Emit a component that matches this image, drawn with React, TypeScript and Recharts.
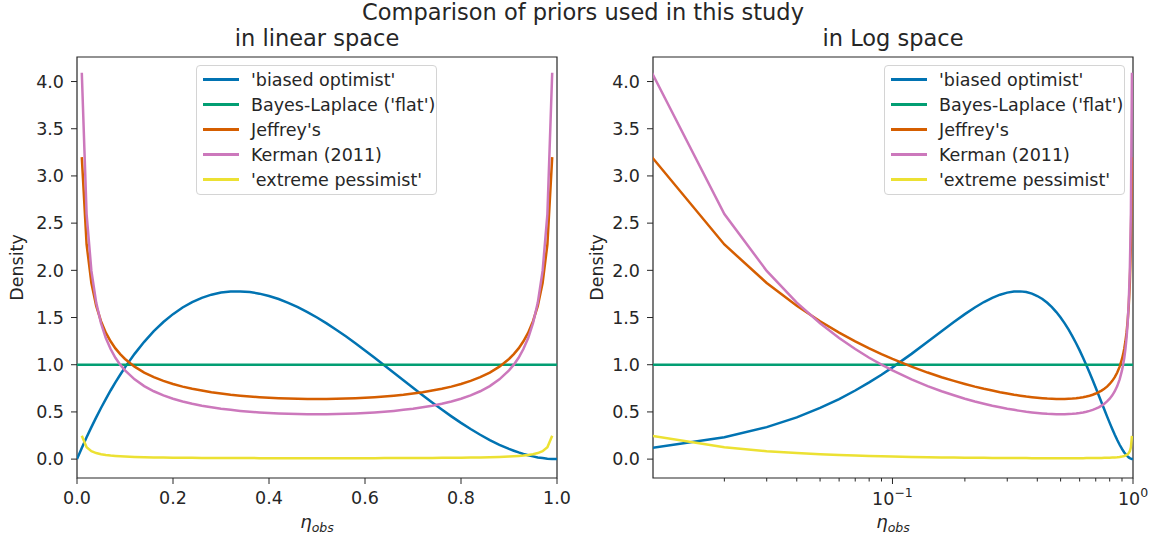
import React from "react"
import { LineChart, Line, XAxis, YAxis, ReferenceArea, Legend, Label } from "recharts"

// sample points of eta_obs (denser near the edges)
const etaObs = [
  0, 0.01, 0.02, 0.03, 0.04, 0.05, 0.06, 0.07, 0.08, 0.09, 0.1,
  0.12, 0.14, 0.16, 0.18, 0.2, 0.22, 0.24, 0.26, 0.28, 0.3, 0.32, 0.34, 0.36, 0.38, 0.4, 0.42, 0.44, 0.46, 0.48, 0.5,
  0.52, 0.54, 0.56, 0.58, 0.6, 0.62, 0.64, 0.66, 0.68, 0.7, 0.72, 0.74, 0.76, 0.78, 0.8, 0.82, 0.84, 0.86, 0.88,
  0.9, 0.91, 0.92, 0.93, 0.94, 0.95, 0.96, 0.97, 0.98, 0.99, 1,
]

const biasedOptimist = [
  0, 0.118, 0.231, 0.339, 0.442, 0.542, 0.636, 0.727, 0.813, 0.894, 0.972,
  1.115, 1.243, 1.355, 1.452, 1.536, 1.606, 1.664, 1.709, 1.742, 1.764, 1.776, 1.777, 1.77, 1.753, 1.728, 1.696, 1.656, 1.61, 1.558, 1.5,
  1.438, 1.371, 1.301, 1.228, 1.152, 1.074, 0.995, 0.916, 0.836, 0.756, 0.677, 0.6, 0.525, 0.453, 0.384, 0.319, 0.258, 0.202, 0.152,
  0.108, 0.089, 0.071, 0.055, 0.041, 0.029, 0.018, 0.011, 0.005, 0.001, 0,
]

const bayesLaplace = [
  1, 1, 1, 1, 1, 1, 1, 1, 1, 1, 1,
  1, 1, 1, 1, 1, 1, 1, 1, 1, 1, 1, 1, 1, 1, 1, 1, 1, 1, 1, 1,
  1, 1, 1, 1, 1, 1, 1, 1, 1, 1, 1, 1, 1, 1, 1, 1, 1, 1, 1,
  1, 1, 1, 1, 1, 1, 1, 1, 1, 1, 1,
]

const jeffreys = [
  null, 3.199, 2.274, 1.866, 1.624, 1.461, 1.34, 1.248, 1.173, 1.112, 1.061,
  0.98, 0.917, 0.868, 0.829, 0.796, 0.768, 0.745, 0.726, 0.709, 0.695, 0.682, 0.672, 0.663, 0.656, 0.65, 0.645, 0.641, 0.639, 0.637, 0.637,
  0.637, 0.639, 0.641, 0.645, 0.65, 0.656, 0.663, 0.672, 0.682, 0.695, 0.709, 0.726, 0.745, 0.768, 0.796, 0.829, 0.868, 0.917, 0.98,
  1.061, 1.112, 1.173, 1.248, 1.34, 1.461, 1.624, 1.866, 2.274, 3.199, null,
]

const kerman = [
  null, 4.093, 2.596, 1.994, 1.658, 1.439, 1.283, 1.166, 1.074, 1.001, 0.94,
  0.845, 0.774, 0.719, 0.676, 0.64, 0.611, 0.587, 0.566, 0.549, 0.534, 0.522, 0.511, 0.502, 0.495, 0.489, 0.484, 0.48, 0.478, 0.476, 0.475,
  0.476, 0.478, 0.48, 0.484, 0.489, 0.495, 0.502, 0.511, 0.522, 0.534, 0.549, 0.566, 0.587, 0.611, 0.64, 0.676, 0.719, 0.774, 0.845,
  0.94, 1.001, 1.074, 1.166, 1.283, 1.439, 1.658, 1.994, 2.596, 4.093, null,
]

const extremePessimist = [
  null, 0.2468, 0.1251, 0.0844, 0.0641, 0.0518, 0.0437, 0.0379, 0.0335, 0.0301, 0.0274,
  0.0234, 0.0205, 0.0184, 0.0168, 0.0155, 0.0144, 0.0136, 0.0129, 0.0123, 0.0118, 0.0114, 0.0111, 0.0108, 0.0105, 0.0103, 0.0102, 0.0101, 0.01, 0.0099, 0.0099,
  0.0099, 0.01, 0.0101, 0.0102, 0.0103, 0.0105, 0.0108, 0.0111, 0.0114, 0.0118, 0.0123, 0.0129, 0.0136, 0.0144, 0.0155, 0.0168, 0.0184, 0.0205, 0.0234,
  0.0274, 0.0301, 0.0335, 0.0379, 0.0437, 0.0518, 0.0641, 0.0844, 0.1251, 0.2468, null,
]

const yTicks = [0, 0.5, 1, 1.5, 2, 2.5, 3, 3.5, 4]
const linTicks = [0, 0.2, 0.4, 0.6, 0.8, 1]
const logTicks = [0.02, 0.03, 0.04, 0.05, 0.06, 0.07, 0.08, 0.09, 0.1, 0.2, 0.3, 0.4, 0.5, 0.6, 0.7, 0.8, 0.9, 1]
const logMajor: Record<string, string> = { "0.1": "\u22121", "1": "0" }

const series = [
  { key: "optimist", name: "'biased optimist'", color: "#0173b2" },
  { key: "flat", name: "Bayes-Laplace ('flat')", color: "#029e73" },
  { key: "jeffreys", name: "Jeffrey's", color: "#d55e00" },
  { key: "kerman", name: "Kerman (2011)", color: "#cc78bc" },
  { key: "pessimist", name: "'extreme pessimist'", color: "#ece133" },
]

const rows = etaObs.map((x, i) => ({
  x,
  optimist: biasedOptimist[i],
  flat: bayesLaplace[i],
  jeffreys: jeffreys[i],
  kerman: kerman[i],
  pessimist: extremePessimist[i],
}))
const logRows = rows.filter((r) => r.x > 0)

const FONT = "'DejaVu Sans', sans-serif"
const INK = "#262626"
const FS = 17.5
const yDomain: [number, number] = [-0.2, 4.26]

const PriorLegend = () => (
  <div
    style={{
      boxSizing: "border-box",
      width: 241,
      border: "1px solid #d4d4d4",
      borderRadius: 4,
      background: "rgba(255,255,255,0.8)",
      padding: "1px 0 2px 6px",
      fontFamily: FONT,
      fontSize: FS,
      color: INK,
    }}
  >
    {series.map((s) => (
      <div key={s.key} style={{ display: "flex", alignItems: "center", height: 25 }}>
        <div style={{ width: 36, height: 2.5, background: s.color, marginRight: 12 }} />
        <span style={{ whiteSpace: "nowrap" }}>{s.name}</span>
      </div>
    ))}
  </div>
)

const DensityLabel = (props: any) => {
  const { viewBox } = props
  const cx = viewBox.x + 17
  const cy = viewBox.y + viewBox.height / 2
  return (
    <text x={cx} y={cy} transform={`rotate(-90 ${cx} ${cy})`} textAnchor="middle" dominantBaseline="central" fontFamily={FONT} fontSize={FS} fill={INK}>
      Density
    </text>
  )
}

const EtaLabel = (props: any) => {
  const { viewBox } = props
  const cx = viewBox.x + viewBox.width / 2
  const by = viewBox.y + 50
  return (
    <text x={cx} y={by} textAnchor="middle" fontFamily={FONT} fontSize={18} fontStyle="italic" fill={INK}>
      η<tspan fontSize={12.5} dy={4}>obs</tspan>
    </text>
  )
}

const LogTick = (props: any) => {
  const { x, y, payload } = props
  const exp = logMajor[String(payload.value)]
  return (
    <g>
      <line x1={x} x2={x} y1={y} y2={y + (exp ? 6 : 3.5)} stroke={INK} strokeWidth={1} />
      {exp && (
        <text x={x} y={y + 27} textAnchor="middle" fontFamily={FONT} fontSize={FS} fill={INK}>
          10<tspan fontSize={12.5} dy={-8}>{exp}</tspan>
        </text>
      )}
    </g>
  )
}

const yAxisProps = {
  type: "number" as const,
  domain: yDomain,
  ticks: yTicks,
  allowDataOverflow: true,
  axisLine: false,
  tickSize: 6,
  tickMargin: 7,
  tickLine: { stroke: INK },
  tick: { fill: INK, fontSize: FS, fontFamily: FONT },
  tickFormatter: (v: number) => v.toFixed(1),
}

const drawLines = () =>
  series.map((s) => (
    <Line key={s.key} type="linear" dataKey={s.key} name={s.name} stroke={s.color} strokeWidth={2.5} dot={false} isAnimationActive={false} connectNulls={false} />
  ))

export default function App() {
  return (
    <div style={{ position: "absolute", left: 0, top: 0, width: 1158, height: 541, background: "#fff" }}>
      <svg width={1158} height={60} style={{ position: "absolute", left: 0, top: 0 }}>
        <text x={583} y={20} textAnchor="middle" fontFamily={FONT} fontSize={22.5} fill={INK}>
          Comparison of priors used in this study
        </text>
        <text x={317} y={46} textAnchor="middle" fontFamily={FONT} fontSize={22.5} fill={INK}>
          in linear space
        </text>
        <text x={893} y={46} textAnchor="middle" fontFamily={FONT} fontSize={22.5} fill={INK}>
          in Log space
        </text>
      </svg>

      <div style={{ position: "absolute", left: 0, top: 0 }}>
        <LineChart width={580} height={541} data={rows} margin={{ top: 57, right: 23, bottom: 0, left: 0 }}>
          <ReferenceArea x1={0} x2={1} y1={yDomain[0]} y2={yDomain[1]} fill="none" stroke={INK} strokeWidth={1.2} />
          <XAxis
            dataKey="x"
            type="number"
            domain={[0, 1]}
            ticks={linTicks}
            allowDataOverflow
            height={63}
            axisLine={false}
            tickSize={6}
            tickMargin={8}
            tickLine={{ stroke: INK }}
            tick={{ fill: INK, fontSize: FS, fontFamily: FONT }}
            tickFormatter={(v: number) => v.toFixed(1)}
            interval={0}
          >
            <Label content={EtaLabel} />
          </XAxis>
          <YAxis {...yAxisProps} width={77}>
            <Label content={DensityLabel} />
          </YAxis>
          {drawLines()}
          <Legend layout="vertical" align="center" verticalAlign="middle" width={241} wrapperStyle={{ left: 196, top: 65 }} content={PriorLegend} />
        </LineChart>
      </div>

      <div style={{ position: "absolute", left: 580, top: 0 }}>
        <LineChart width={578} height={541} data={logRows} margin={{ top: 57, right: 25, bottom: 0, left: 0 }}>
          <ReferenceArea x1={0.0101} x2={1} y1={yDomain[0]} y2={yDomain[1]} fill="none" stroke={INK} strokeWidth={1.2} />
          <XAxis
            dataKey="x"
            type="number"
            scale="log"
            domain={[0.0101, 1]}
            ticks={logTicks}
            allowDataOverflow
            height={63}
            axisLine={false}
            tickSize={0}
            tickMargin={0}
            tickLine={false}
            tick={LogTick}
            interval={0}
          >
            <Label content={EtaLabel} />
          </XAxis>
          <YAxis {...yAxisProps} width={73}>
            <Label content={DensityLabel} />
          </YAxis>
          {drawLines()}
          <Legend layout="vertical" align="center" verticalAlign="middle" width={241} wrapperStyle={{ left: 304, top: 65 }} content={PriorLegend} />
        </LineChart>
      </div>
    </div>
  )
}
